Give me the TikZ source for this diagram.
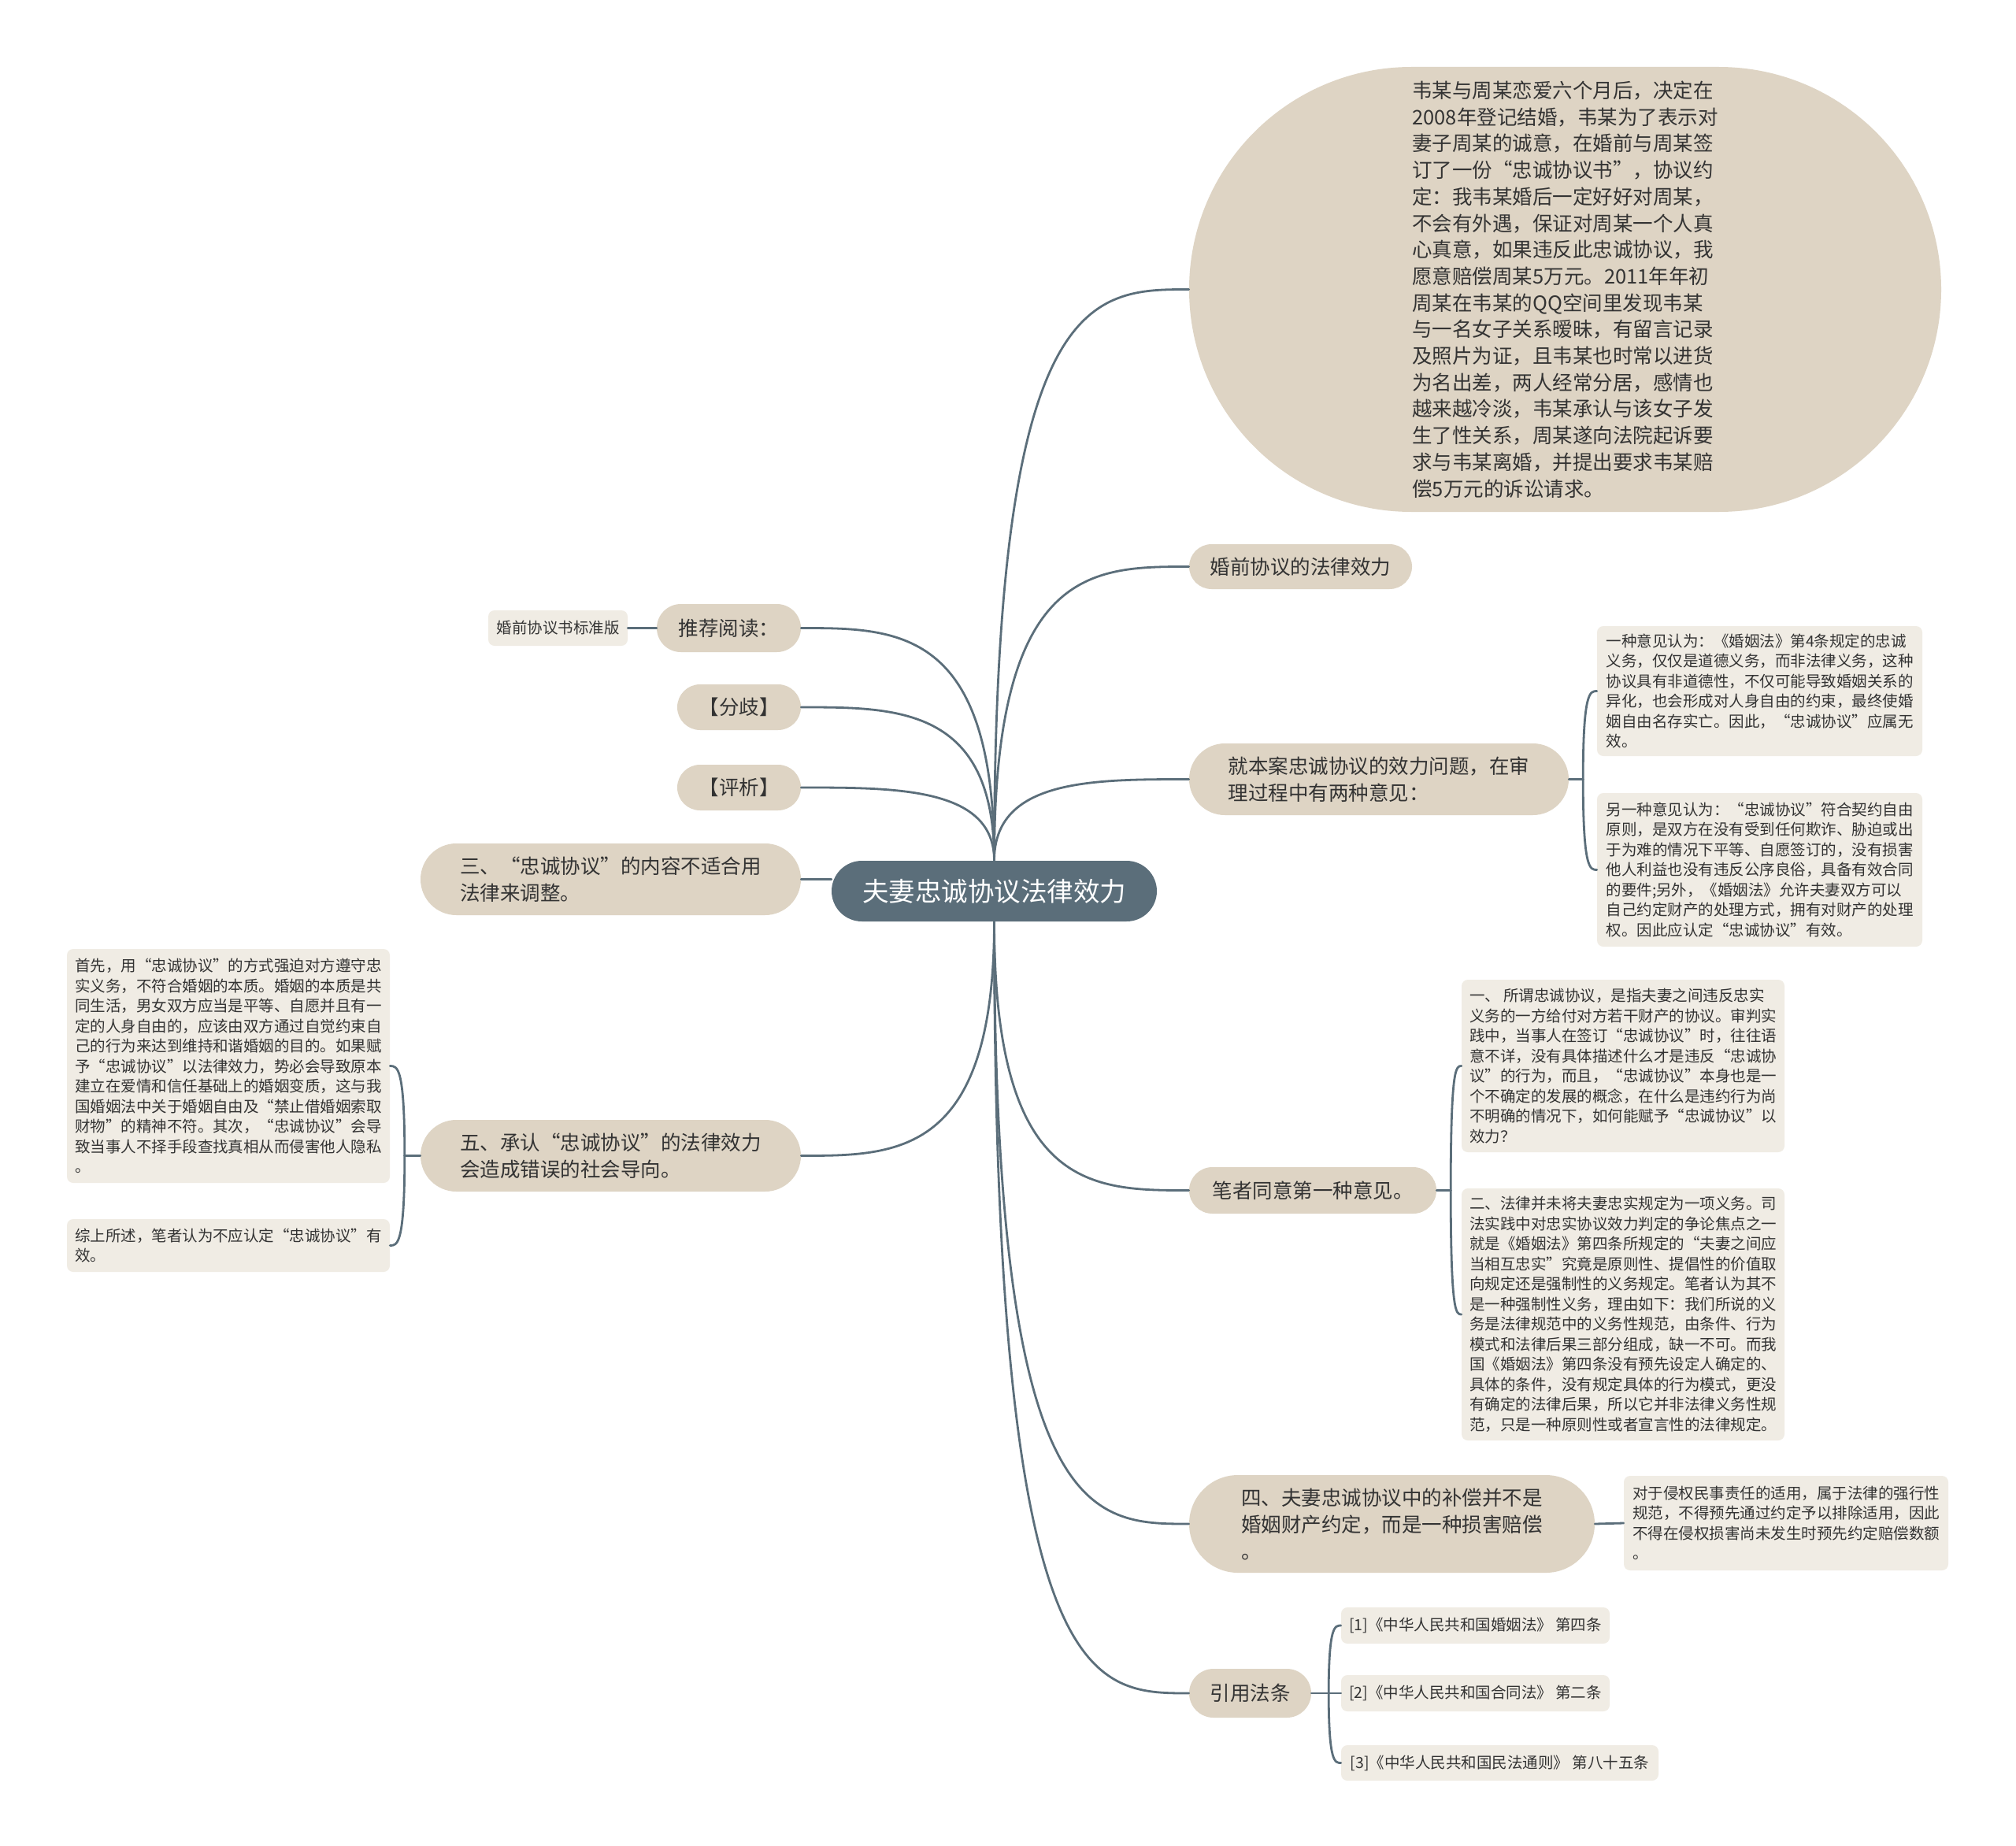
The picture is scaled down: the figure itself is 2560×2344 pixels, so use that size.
\documentclass[tikz,border=0pt]{standalone}
\usepackage{fontspec}
\setmainfont{Noto Sans CJK SC}
\usetikzlibrary{calc}
\definecolor{lineC}{HTML}{5B6E7A}
\definecolor{pillC}{HTML}{DED4C4}
\definecolor{leafC}{HTML}{F0ECE4}
\definecolor{txtC}{HTML}{333333}
\begin{document}
\begin{tikzpicture}[x=1pt,y=-1pt,
  link/.style={draw=lineC, line width=2.8pt, line cap=round},
  pill/.style 2 args={fill=pillC, text=txtC, minimum width=#1, minimum height=#2, rounded corners=#2/2, inner sep=0pt, align=left, font=\fontsize{25.5}{34}\selectfont},
  leaf/.style 2 args={fill=leafC, text=txtC, minimum width=#1, minimum height=#2, rounded corners=8, inner sep=0pt, align=left, font=\fontsize{19.5}{25.5}\selectfont},
  branch/.style={to path={.. controls (\tikztostart |- \tikztotarget) and ($(\tikztostart |- \tikztotarget)!0.5!(\tikztotarget)$) .. (\tikztotarget)}}
]
\useasboundingbox (0,0) rectangle (2560,2344);
\fill[white] (0,0) rectangle (2560,2344);

% centre
\node[fill=lineC, text=white, minimum width=413, minimum height=77, rounded corners=38.5, inner sep=0pt, font=\fontsize{33.5}{40}\selectfont] (c) at (1262.5,1131.5) {夫妻忠诚协议法律效力};

% right side, level 1
\node[pill={955}{565}, font=\fontsize{25.5}{33.7}\selectfont] (story) at (1987.5,367.5) {韦某与周某恋爱六个月后，决定在\\2008年登记结婚，韦某为了表示对\\妻子周某的诚意，在婚前与周某签\\订了一份“忠诚协议书”，协议约\\定：我韦某婚后一定好好对周某，\\不会有外遇，保证对周某一个人真\\心真意，如果违反此忠诚协议，我\\愿意赔偿周某5万元。2011年年初\\周某在韦某的QQ空间里发现韦某\\与一名女子关系暧昧，有留言记录\\及照片为证，且韦某也时常以进货\\为名出差，两人经常分居，感情也\\越来越冷淡，韦某承认与该女子发\\生了性关系，周某遂向法院起诉要\\求与韦某离婚，并提出要求韦某赔\\偿5万元的诉讼请求。};
\node[pill={283}{57}] (hq) at (1651.5,719.5) {婚前协议的法律效力};
\node[pill={482}{91}] (jb) at (1751,989.5) {就本案忠诚协议的效力问题，在审\\理过程中有两种意见：};
\node[pill={314}{59}] (bz) at (1667,1511.5) {笔者同意第一种意见。};
\node[pill={515}{124}] (si) at (1767.5,1935) {四、夫妻忠诚协议中的补偿并不是\\婚姻财产约定，而是一种损害赔偿\\。};
\node[pill={155}{62}] (yy) at (1587.5,2150) {引用法条};

% left side, level 1
\node[pill={183}{61}] (tj) at (925.5,797.5) {推荐阅读：};
\node[pill={157}{58}] (fq) at (938.5,898) {【分歧】};
\node[pill={157}{58}] (px) at (938.5,1000) {【评析】};
\node[pill={483}{91}] (san) at (775.5,1116.5) {三、“忠诚协议”的内容不适合用\\法律来调整。};
\node[pill={483}{91}] (wu) at (775.5,1467.5) {五、承认“忠诚协议”的法律效力\\会造成错误的社会导向。};

% leaves
\node[leaf={177}{45}] (bzb) at (708.5,797.5) {婚前协议书标准版};
\node[leaf={413}{165}] (la) at (2234.5,877.5) {一种意见认为：《婚姻法》第4条规定的忠诚\\义务，仅仅是道德义务，而非法律义务，这种\\协议具有非道德性，不仅可能导致婚姻关系的\\异化，也会形成对人身自由的约束，最终使婚\\姻自由名存实亡。因此，“忠诚协议”应属无\\效。};
\node[leaf={413}{195}] (lb) at (2234.5,1104.5) {另一种意见认为：“忠诚协议”符合契约自由\\原则，是双方在没有受到任何欺诈、胁迫或出\\于为难的情况下平等、自愿签订的，没有损害\\他人利益也没有违反公序良俗，具备有效合同\\的要件;另外，《婚姻法》允许夫妻双方可以\\自己约定财产的处理方式，拥有对财产的处理\\权。因此应认定“忠诚协议”有效。};
\node[leaf={410}{219}] (lc) at (2061,1353.5) {一、 所谓忠诚协议，是指夫妻之间违反忠实\\义务的一方给付对方若干财产的协议。审判实\\践中，当事人在签订“忠诚协议”时，往往语\\意不详，没有具体描述什么才是违反“忠诚协\\议”的行为，而且，“忠诚协议”本身也是一\\个不确定的发展的概念，在什么是违约行为尚\\不明确的情况下，如何能赋予“忠诚协议”以\\效力？};
\node[leaf={410}{320}] (ld) at (2061,1669) {二、法律并未将夫妻忠实规定为一项义务。司\\法实践中对忠实协议效力判定的争论焦点之一\\就是《婚姻法》第四条所规定的“夫妻之间应\\当相互忠实”究竟是原则性、提倡性的价值取\\向规定还是强制性的义务规定。笔者认为其不\\是一种强制性义务，理由如下：我们所说的义\\务是法律规范中的义务性规范，由条件、行为\\模式和法律后果三部分组成，缺一不可。而我\\国《婚姻法》第四条没有预先设定人确定的、\\具体的条件，没有规定具体的行为模式，更没\\有确定的法律后果，所以它并非法律义务性规\\范，只是一种原则性或者宣言性的法律规定。};
\node[leaf={412}{120}] (le) at (2268,1934) {对于侵权民事责任的适用，属于法律的强行性\\规范，不得预先通过约定予以排除适用，因此\\不得在侵权损害尚未发生时预先约定赔偿数额\\。};
\node[leaf={410}{297}] (lf) at (290,1353.5) {首先，用“忠诚协议”的方式强迫对方遵守忠\\实义务，不符合婚姻的本质。婚姻的本质是共\\同生活，男女双方应当是平等、自愿并且有一\\定的人身自由的，应该由双方通过自觉约束自\\己的行为来达到维持和谐婚姻的目的。如果赋\\予“忠诚协议”以法律效力，势必会导致原本\\建立在爱情和信任基础上的婚姻变质，这与我\\国婚姻法中关于婚姻自由及“禁止借婚姻索取\\财物”的精神不符。其次，“忠诚协议”会导\\致当事人不择手段查找真相从而侵害他人隐私\\。};
\node[leaf={410}{67}] (lg) at (290,1581.5) {综上所述，笔者认为不应认定“忠诚协议”有\\效。};
\node[leaf={341}{46}] (r1) at (1873.5,2064) {[1]《中华人民共和国婚姻法》 第四条};
\node[leaf={341}{46}] (r2) at (1873.5,2150) {[2]《中华人民共和国合同法》 第二条};
\node[leaf={403}{45}] (r3) at (1904.5,2238.5) {[3]《中华人民共和国民法通则》 第八十五条};

% main connectors
\draw[link] (c.north) to[branch] (story.west);
\draw[link] (c.north) to[branch] (hq.west);
\draw[link] (c.north) to[branch] (jb.west);
\draw[link] (c.north) to[branch] (tj.east);
\draw[link] (c.north) to[branch] (fq.east);
\draw[link] (c.north) to[branch] (px.east);
\draw[link] (san.east) -- (san.east -| c.west);
\draw[link] (c.south) to[branch] (bz.west);
\draw[link] (c.south) to[branch] (si.west);
\draw[link] (c.south) to[branch] (yy.west);
\draw[link] (c.south) to[branch] (wu.east);

% sub connectors
\draw[link] (tj.west) -- (bzb.east);
\draw[link] (si.east) -- (le.west);

\coordinate (j1) at ($(jb.east)+(18,0)$);
\draw[link] (jb.east) -- (j1);
\draw[link] (j1) to[branch] (la.west);
\draw[link] (j1) to[branch] (lb.west);

\coordinate (j2) at ($(bz.east)+(18,0)$);
\draw[link] (bz.east) -- (j2);
\draw[link] (j2) to[branch] (lc.west);
\draw[link] (j2) to[branch] (ld.west);

\coordinate (j3) at ($(yy.east)+(22,0)$);
\draw[link] (yy.east) -- (j3);
\draw[link] (j3) to[branch] (r1.west);
\draw[link] (j3) to[branch] (r2.west);
\draw[link] (j3) to[branch] (r3.west);

\coordinate (j4) at ($(wu.west)+(-20,0)$);
\draw[link] (wu.west) -- (j4);
\draw[link] (j4) to[branch] (lf.east);
\draw[link] (j4) to[branch] (lg.east);
\end{tikzpicture}
\end{document}
